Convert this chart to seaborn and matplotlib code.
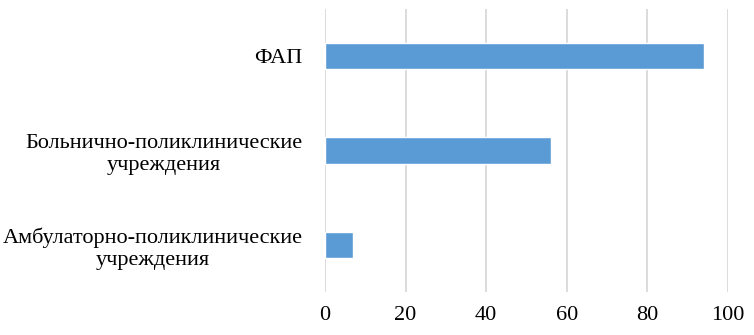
import matplotlib
matplotlib.use("Agg")
import matplotlib.pyplot as plt
import seaborn as sns
import pandas as pd

categories = ["ФАП", "Больнично-поликлинические\nучреждения", "Амбулаторно-поликлинические\nучреждения"]
values = [94, 56, 7]
xticks = [0, 20, 40, 60, 80, 100]

sns.set_theme(style="white")
plt.rcParams['font.family'] = ['Liberation Serif', 'DejaVu Serif']

df = pd.DataFrame({"cat": categories, "val": values})

fig = plt.figure(figsize=(7.54, 3.35), dpi=100)
ax = fig.add_axes([325/754, 1-292/335, (728-325)/754, (292-9)/335])
sns.barplot(data=df, y="cat", x="val", orient="h", color="#5b9bd5", saturation=1,
            width=0.28, ax=ax, zorder=3)
ax.set_xlim(0, 100)
ax.set_xticks(xticks)
ax.set_xticklabels([str(t) for t in xticks])
ax.set_ylim(2.5, -0.5)
ax.grid(axis="x", color="#d9d9d9", linewidth=1.3, zorder=0)
ax.set_axisbelow(True)
for s in ax.spines.values():
    s.set_visible(False)
ax.set_xlabel("")
ax.set_ylabel("")
ax.tick_params(axis="x", length=0, pad=10, labelsize=16, colors="#000000")
ax.tick_params(axis="y", length=0, pad=16, labelsize=16, colors="#000000")
for lbl in ax.get_yticklabels():
    lbl.set_multialignment("center")
    lbl.set_linespacing(1.2)
fig.savefig("out.png", dpi=100, facecolor="white")
